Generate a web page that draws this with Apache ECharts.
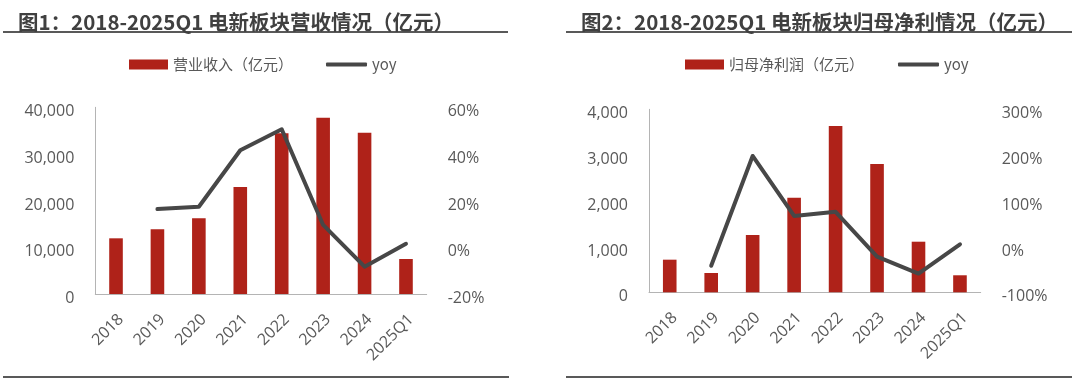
<!DOCTYPE html>
<html><head><meta charset="utf-8">
<script src="https://cdn.jsdelivr.net/npm/echarts@6/dist/echarts.min.js"></script>
<style>html,body{margin:0;padding:0;background:#fff}#c{width:1080px;height:380px}</style>
</head><body><div id="c"></div>
<script>
const categories = ['2018','2019','2020','2021','2022','2023','2024','2025Q1'];
const revenue = [11930, 13860, 16220, 22930, 34430, 37770, 34560, 7500];
const revenueYoy = [null, 16.4, 17.4, 41.6, 50.6, 9.6, -8.3, 1.5];
const profit = [713, 422, 1252, 2068, 3635, 2804, 1106, 372];
const profitYoy = [null, -42, 198, 67, 76, -22, -59, 5];
const leftTicks = [0, 10000, 20000, 30000, 40000];
const leftPct = [-20, 0, 20, 40, 60];
const rightTicks = [0, 1000, 2000, 3000, 4000];
const rightPct = [-100, 0, 100, 200, 300];
const titles = ['图1：2018-2025Q1 电新板块营收情况（亿元）', '图2：2018-2025Q1 电新板块归母净利情况（亿元）'];
const barNames = ['营业收入（亿元）', '归母净利润（亿元）'];
const yoyNames = ['yoy', 'yoy '];

const RED = '#AF2219', GREY = '#474747', TXT = '#595959', CJK = 'Noto Sans CJK SC', LAT = 'Open Sans';
const chart = echarts.init(document.getElementById('c'));

function xAxis(gi){
  return {type:'category', gridIndex:gi, data:categories,
    axisLine:{lineStyle:{color:'#B4B4B4', width:1}}, axisTick:{show:false},
    axisLabel:{rotate:45, interval:0, color:TXT, fontSize:16, fontFamily:LAT, margin:18,
      verticalAlign:'top', lineHeight:14}};
}
function yVal(gi, ticks){
  return {type:'value', gridIndex:gi, min:ticks[0], max:ticks[ticks.length-1], interval:ticks[1]-ticks[0],
    axisLine:{show:true, lineStyle:{color:'#B4B4B4'}}, axisTick:{show:false}, splitLine:{show:false},
    axisLabel:{color:TXT, fontSize:16, fontFamily:LAT, margin:21, verticalAlign:'top', lineHeight:9,
      formatter:v=>v.toLocaleString('en-US')}};
}
function yPct(gi, ticks){
  return {type:'value', gridIndex:gi, position:'right', min:ticks[0], max:ticks[ticks.length-1], interval:ticks[1]-ticks[0],
    axisLine:{show:false}, axisTick:{show:false}, splitLine:{show:false},
    axisLabel:{color:TXT, fontSize:16, fontFamily:LAT, margin:21, verticalAlign:'top', lineHeight:9, formatter:'{value}%'}};
}
const hline = (x1,y,x2)=>({type:'line', shape:{x1:x1,y1:y,x2:x2,y2:y}, style:{stroke:'#595959', lineWidth:2}});
const legText = {fontSize:15, color:TXT, fontFamily:CJK};

chart.setOption({
  animation:false,
  textStyle:{fontFamily:CJK},
  title:[
    {text:titles[0], left:13, top:7, textStyle:{fontSize:20.5, fontWeight:'bold', color:'#404040', fontFamily:CJK}},
    {text:titles[1], left:576, top:7, textStyle:{fontSize:20.5, fontWeight:'bold', color:'#404040', fontFamily:CJK}}
  ],
  legend:[
    {left:124, top:52, itemWidth:39, itemHeight:10, icon:'rect', data:[barNames[0]], textStyle:legText},
    {left:321, top:52, itemWidth:41, itemHeight:4, icon:'roundRect', data:[yoyNames[0]], textStyle:legText},
    {left:680, top:52, itemWidth:39, itemHeight:10, icon:'rect', data:[barNames[1]], textStyle:legText},
    {left:893, top:52, itemWidth:41, itemHeight:4, icon:'roundRect', data:[yoyNames[1]], formatter:n=>n.trim(), textStyle:legText}
  ],
  grid:[
    {left:95.3, top:107.3, width:331.4, height:186.7},
    {left:649, top:109.3, width:331.7, height:183}
  ],
  xAxis:[xAxis(0), xAxis(1)],
  yAxis:[yVal(0,leftTicks), yPct(0,leftPct), yVal(1,rightTicks), yPct(1,rightPct)],
  series:[
    {name:barNames[0], type:'bar', xAxisIndex:0, yAxisIndex:0, data:revenue, barWidth:13.6, itemStyle:{color:RED}},
    {name:yoyNames[0], type:'line', xAxisIndex:0, yAxisIndex:1, data:revenueYoy, symbol:'none', showSymbol:false,
      lineStyle:{color:GREY, width:4, cap:'round', join:'round'}, itemStyle:{color:GREY}},
    {name:barNames[1], type:'bar', xAxisIndex:1, yAxisIndex:2, data:profit, barWidth:13.6, itemStyle:{color:RED}},
    {name:yoyNames[1], type:'line', xAxisIndex:1, yAxisIndex:3, data:profitYoy, symbol:'none', showSymbol:false,
      lineStyle:{color:GREY, width:4, cap:'round', join:'round'}, itemStyle:{color:GREY}}
  ],
  graphic:[hline(3,32,508), hline(566,32,1072), hline(3,377,509), hline(566,377,1072)]
});
</script></body></html>
